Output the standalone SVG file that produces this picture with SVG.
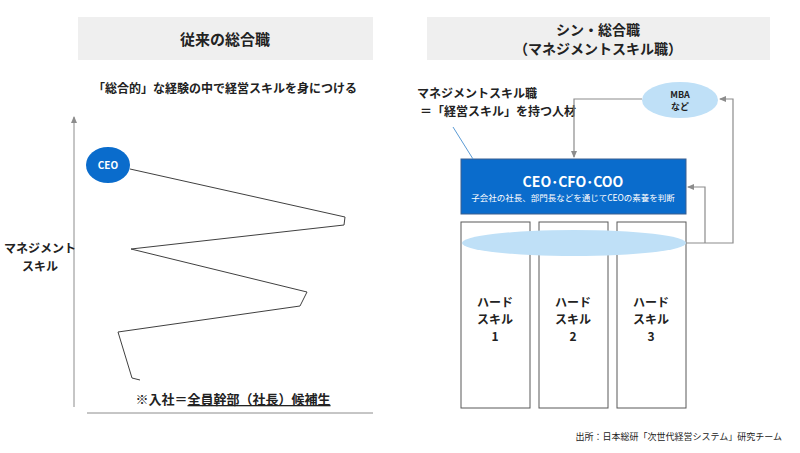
<svg xmlns="http://www.w3.org/2000/svg" width="800" height="453" viewBox="0 0 800 453">
<style>
text{font-family:"Noto Sans CJK JP","Noto Sans",sans-serif;font-weight:bold;fill:#222}
.hd{fill:#efefef}
.col{fill:#fff;stroke:#595959;stroke-width:1}
.cn{fill:none;stroke:#8c8c8c;stroke-width:1.2}
</style>
<defs><marker id="a" markerWidth="8" markerHeight="8" refX="6" refY="4" orient="auto" markerUnits="userSpaceOnUse"><path d="M0,1 L7,4 L0,7z" fill="#8c8c8c"/></marker></defs>
<rect width="800" height="453" fill="#fff"/>
<g id="left-header"><rect class="hd" x="78" y="17" width="295" height="43"/><text x="225" y="45" text-anchor="middle" font-size="15">従来の総合職</text></g>
<text x="225" y="93" text-anchor="middle" font-size="12">「総合的」な経験の中で経営スキルを身につける</text>
<g id="axes"><line x1="74" y1="407" x2="74" y2="117" stroke="#8c8c8c" stroke-width="1" marker-end="url(#a)"/><line x1="87" y1="413" x2="373" y2="413" stroke="#8c8c8c"/></g>
<text x="40" y="253" text-anchor="middle" font-size="12">マネジメント</text>
<text x="40" y="271" text-anchor="middle" font-size="12">スキル</text>
<path d="M130,169 L345,217 L344,225 L131,249 L307,292 L300,306 L118,332 L132,378 L140,380" fill="none" stroke="#404040" stroke-width="1"/>
<g id="ceo"><ellipse cx="108" cy="165" rx="22" ry="18" fill="#0a6ccc"/><text x="108" y="169" text-anchor="middle" font-size="10" style="fill:#fff">CEO</text></g>
<text x="233" y="404" text-anchor="middle" font-size="13">※入社＝<tspan text-decoration="underline">全員幹部（社長）候補生</tspan></text>
<g id="right-header"><rect class="hd" x="427" y="17" width="343" height="43"/><text x="598" y="35" text-anchor="middle" font-size="14">シン・総合職</text><text x="598" y="54" text-anchor="middle" font-size="14">（マネジメントスキル職）</text></g>
<text x="417" y="98" font-size="12">マネジメントスキル職</text>
<text x="420" y="116" font-size="12">＝「経営スキル」を持つ人材</text>
<g id="col1"><rect class="col" x="461" y="222" width="69" height="186"/><text x="495" y="307" text-anchor="middle" font-size="12">ハード</text><text x="495" y="324" text-anchor="middle" font-size="12">スキル</text><text x="495" y="341" text-anchor="middle" font-size="12">1</text></g>
<g id="col2"><rect class="col" x="539" y="222" width="69" height="186"/><text x="573" y="307" text-anchor="middle" font-size="12">ハード</text><text x="573" y="324" text-anchor="middle" font-size="12">スキル</text><text x="573" y="341" text-anchor="middle" font-size="12">2</text></g>
<g id="col3"><rect class="col" x="617" y="222" width="69" height="186"/><text x="651" y="307" text-anchor="middle" font-size="12">ハード</text><text x="651" y="324" text-anchor="middle" font-size="12">スキル</text><text x="651" y="341" text-anchor="middle" font-size="12">3</text></g>
<g id="base"><ellipse cx="574" cy="243" rx="112" ry="13" fill="#bfe0f7"/></g>
<g id="top"><rect x="461" y="159" width="225" height="55" fill="#0a6ccc" stroke="#3a5f8f"/><text x="573" y="187" text-anchor="middle" font-size="14" style="fill:#fff">CEO･CFO･COO</text><text x="573" y="201" text-anchor="middle" font-size="8.5" style="fill:#fff;font-weight:normal">子会社の社長、部門長などを通じてCEOの素養を判断</text></g>
<g id="mba"><ellipse cx="680" cy="100" rx="38" ry="18" fill="#bfe0f7"/><text x="680" y="98" text-anchor="middle" font-size="9">MBA</text><text x="680" y="110" text-anchor="middle" font-size="9">など</text></g>
<g id="connectors">
<path class="cn" d="M642,99 H574 V157" marker-end="url(#a)"/>
<path class="cn" d="M686,243 H733 V99 H720" marker-end="url(#a)"/>
<path class="cn" d="M705,243 V187 H688" marker-end="url(#a)"/>
<line x1="453" y1="127" x2="473" y2="159" stroke="#5b9bd5" stroke-width="1"/>
</g>
<text x="782" y="440" text-anchor="end" font-size="9" style="font-weight:normal">出所：日本総研「次世代経営システム」研究チーム</text>
</svg>
